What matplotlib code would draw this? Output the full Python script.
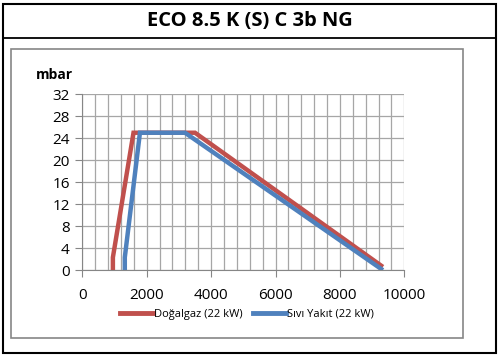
import matplotlib.pyplot as plt
from matplotlib.patches import Rectangle
from matplotlib.lines import Line2D

# data (flow vs. pressure)
dogalgaz_x = [950, 950, 1590, 3500, 9280]
dogalgaz_y = [0, 2.3, 25, 25, 0.8]
sivi_x = [1320, 1320, 1790, 3190, 9280]
sivi_y = [0, 2.3, 25, 25, 0.2]

series_labels = ["Doğalgaz (22 kW)", "Sıvı Yakıt (22 kW)"]
title = "ECO 8.5 K (S) C 3b NG"
x_ticks = [0, 2000, 4000, 6000, 8000, 10000]
y_ticks = [0, 4, 8, 12, 16, 20, 24, 28, 32]

W, H = 502, 357
fig = plt.figure(figsize=(W / 100, H / 100), dpi=100)
plt.rcParams['font.family'] = ['Open Sans', 'DejaVu Sans']

def fx(px):
    return px / W

def fy(py):
    return 1 - py / H

# outer black frame + title separator
fig.add_artist(Rectangle((fx(3.5), fy(352.5)), fx(493), (349 / H), transform=fig.transFigure,
                         fill=False, edgecolor="black", linewidth=1.5))
fig.add_artist(Line2D([fx(3.5), fx(496.5)], [fy(38.3), fy(38.3)], transform=fig.transFigure,
                      color="black", linewidth=1.3))
# grey chart box
fig.add_artist(Rectangle((fx(11.5), fy(338.3)), fx(451.8), (289.3 / H), transform=fig.transFigure,
                         fill=False, edgecolor="#868686", linewidth=1.2))

fig.text(fx(250), fy(21), title, ha="center", va="center", fontsize=14.5, fontweight="bold")

ax = fig.add_axes([fx(82.3), fy(270), fx(322), 175.7 / H])
ax.plot(dogalgaz_x, dogalgaz_y, color="#C0504D", linewidth=3.2, solid_joinstyle="miter")
ax.plot(sivi_x, sivi_y, color="#4F81BD", linewidth=3.2, solid_joinstyle="miter")

ax.set_xlim(0, 10000)
ax.set_ylim(0, 32)
ax.set_xticks(x_ticks)
ax.set_yticks(y_ticks)
ax.set_xticks(range(0, 10001, 400), minor=True)
ax.grid(True, which="major", color="#A6A6A6", linewidth=0.9)
ax.grid(True, which="minor", axis="x", color="#A6A6A6", linewidth=0.9)
ax.tick_params(which="minor", length=0)
ax.tick_params(which="major", length=5, color="#868686", labelsize=11, pad=4)
ax.tick_params(axis="x", pad=8)
for s in ["top", "right"]:
    ax.spines[s].set_visible(False)
for s in ["left", "bottom"]:
    ax.spines[s].set_color("#868686")
ax.set_axisbelow(True)

fig.text(fx(54), fy(75), "mbar", ha="center", va="center", fontsize=10, fontweight="bold")

handles = [Line2D([], [], color="#C0504D", linewidth=3.5),
           Line2D([], [], color="#4F81BD", linewidth=3.5)]
fig.legend(handles, series_labels, loc="center", bbox_to_anchor=(fx(247), fy(314)), ncol=2,
           frameon=False, fontsize=8, handlelength=3.0, handletextpad=0.1, columnspacing=0.9)

fig.savefig("out.png", dpi=100)
